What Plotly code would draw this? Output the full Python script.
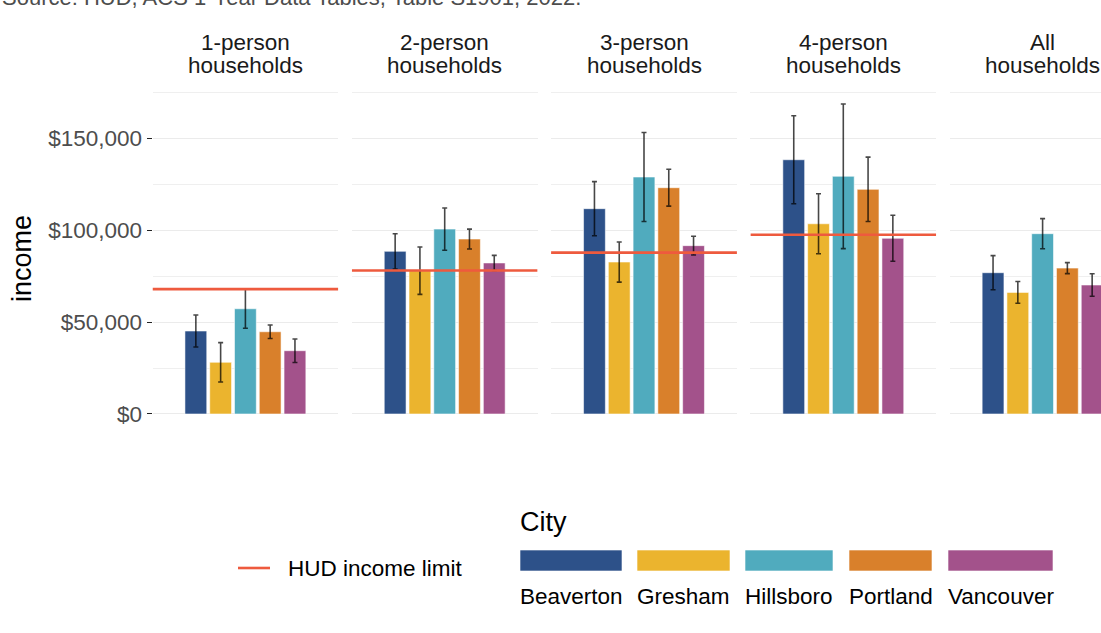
import plotly.graph_objects as go

# Median household income by household size, with margins of error
panels = ["1-person<br>households", "2-person<br>households", "3-person<br>households",
          "4-person<br>households", "All<br>households"]
cities = ["Beaverton", "Gresham", "Hillsboro", "Portland", "Vancouver"]

income_beaverton = [45100, 88400, 111600, 138200, 76800]
income_gresham = [28100, 77900, 82600, 103400, 66100]
income_hillsboro = [57200, 100500, 128800, 129200, 98000]
income_portland = [44700, 95100, 123000, 122100, 79300]
income_vancouver = [34400, 82100, 91500, 95500, 70100]

moe_beaverton = [8700, 9600, 14700, 23900, 9300]
moe_gresham = [10700, 12900, 10900, 16300, 5900]
moe_hillsboro = [10600, 11500, 24200, 39300, 8200]
moe_portland = [3700, 5400, 10000, 17500, 3000]
moe_vancouver = [6400, 4100, 5100, 12500, 6100]

hud_limit = [67900, 78000, 87700, 97400, None]

y_ticks = [0, 50000, 100000, 150000]
y_tick_labels = ["$0", "$50,000", "$100,000", "$150,000"]

incomes = [income_beaverton, income_gresham, income_hillsboro, income_portland, income_vancouver]
moes = [moe_beaverton, moe_gresham, moe_hillsboro, moe_portland, moe_vancouver]
colors = ["#2D5189", "#EBB42E", "#50ABBE", "#D9802B", "#A3528B"]
hud_color = "#EE5A3E"

W, H = 1101, 633
FONT = "Liberation Sans, Arial, sans-serif"
SMALL = 22.5
LARGE = 27

# panel geometry (pixels)
panel_left0, panel_step, panel_w = 152.5, 199.3, 185.8
plot_top, plot_bottom = 88, 430
y_range = [-8700, 177200]
x_half = 0.6

fig = go.Figure()
layout_axes = {}
for p in range(len(panels)):
    ax = "" if p == 0 else str(p + 1)
    left = panel_left0 + p * panel_step
    right = left + panel_w
    x_hi = x_half
    if right > W:
        x_hi = -x_half + (W - left) / panel_w * 2 * x_half
        right = W
    layout_axes["xaxis" + ax] = dict(
        domain=[left / W, right / W], range=[-x_half, x_hi],
        showgrid=False, zeroline=False, showticklabels=False, ticks="",
        showline=False, fixedrange=True)
    layout_axes["yaxis" + ax] = dict(
        domain=[1 - plot_bottom / H, 1 - plot_top / H], range=y_range,
        anchor="x" + ax, tickmode="array", tickvals=y_ticks, ticktext=y_tick_labels,
        showticklabels=(p == 0), ticks="outside" if p == 0 else "",
        ticklen=5, tickwidth=1.1, tickcolor="#222222",
        tickfont=dict(size=SMALL, color="#4D4D4D", family=FONT),
        showgrid=True, gridcolor="#EBEBEB", gridwidth=1.1,
        minor=dict(dtick=25000, tick0=0, showgrid=True, gridcolor="#EFEFEF", gridwidth=0.8),
        zeroline=False, showline=False, fixedrange=True)

    for c, city in enumerate(cities):
        fig.add_trace(go.Bar(
            x=[0], y=[incomes[c][p]], name=city, offsetgroup=city,
            marker=dict(color=colors[c], line=dict(color="rgba(255,255,255,0.55)", width=1)),
            error_y=dict(type="data", array=[moes[c][p]], symmetric=True,
                         color="rgba(0,0,0,0.72)", thickness=1.6, width=2.5),
            xaxis="x" + ax, yaxis="y" + ax, showlegend=False))

    if hud_limit[p] is not None:
        fig.add_trace(go.Scatter(
            x=[-x_half, x_half], y=[hud_limit[p], hud_limit[p]], mode="lines",
            line=dict(color=hud_color, width=2.6), xaxis="x" + ax, yaxis="y" + ax,
            showlegend=False, hoverinfo="skip"))

annotations = []
shapes = []

# facet strip titles
for p, label in enumerate(panels):
    cx = (panel_left0 + p * panel_step + panel_w / 2) / W
    for k, line in enumerate(label.split("<br>")):
        annotations.append(dict(
            x=cx, y=1 - (42 + 24 * k) / H, xref="paper", yref="paper",
            text=line, showarrow=False, xanchor="center", yanchor="middle",
            font=dict(size=SMALL, color="#1A1A1A", family=FONT)))

# source note running off the top edge
annotations.append(dict(
    x=0, y=1 - 12 / H, xref="paper", yref="paper", xanchor="left", yanchor="bottom",
    text="Source: HUD, ACS 1-Year Data Tables, Table S1901, 2022.", showarrow=False,
    font=dict(size=22, color="#4D4D4D", family=FONT)))

# y-axis title
annotations.append(dict(
    x=22 / W, y=1 - 259 / H, xref="paper", yref="paper", text="income",
    textangle=-90, showarrow=False, xanchor="center", yanchor="middle",
    font=dict(size=LARGE, color="#000000", family=FONT)))

# HUD income limit key
shapes.append(dict(type="line", xref="paper", yref="paper",
                   x0=238 / W, x1=270 / W, y0=1 - 568 / H, y1=1 - 568 / H,
                   line=dict(color=hud_color, width=2.6)))
annotations.append(dict(
    x=286 / W, y=1 - 568 / H, xref="paper", yref="paper", text="HUD income limit",
    showarrow=False, xanchor="left", yanchor="middle",
    font=dict(size=SMALL, color="#000000", family=FONT)))

# City key: title, swatches and labels beneath
annotations.append(dict(
    x=518 / W, y=1 - 522 / H, xref="paper", yref="paper", text="City",
    showarrow=False, xanchor="left", yanchor="middle",
    font=dict(size=LARGE, color="#000000", family=FONT)))
key_left = [520, 637, 745, 849, 948]
key_width = [102, 93, 88, 83, 105]
for c, city in enumerate(cities):
    x0 = key_left[c] / W
    x1 = (key_left[c] + key_width[c]) / W
    shapes.append(dict(type="rect", xref="paper", yref="paper",
                       x0=x0, x1=x1, y0=1 - 571 / H, y1=1 - 550 / H,
                       fillcolor=colors[c], line=dict(color="rgba(255,255,255,0.6)", width=1)))
    annotations.append(dict(
        x=x0 - 2 / W, y=1 - 596 / H, xref="paper", yref="paper", text=city,
        showarrow=False, xanchor="left", yanchor="middle",
        font=dict(size=SMALL, color="#000000", family=FONT)))

fig.update_layout(
    width=W, height=H, margin=dict(l=0, r=0, t=0, b=0),
    paper_bgcolor="white", plot_bgcolor="white",
    barmode="group", bargap=0.2, bargroupgap=0.12,
    font=dict(family=FONT), showlegend=False,
    annotations=annotations, shapes=shapes, **layout_axes)

fig.write_html("out.html")
